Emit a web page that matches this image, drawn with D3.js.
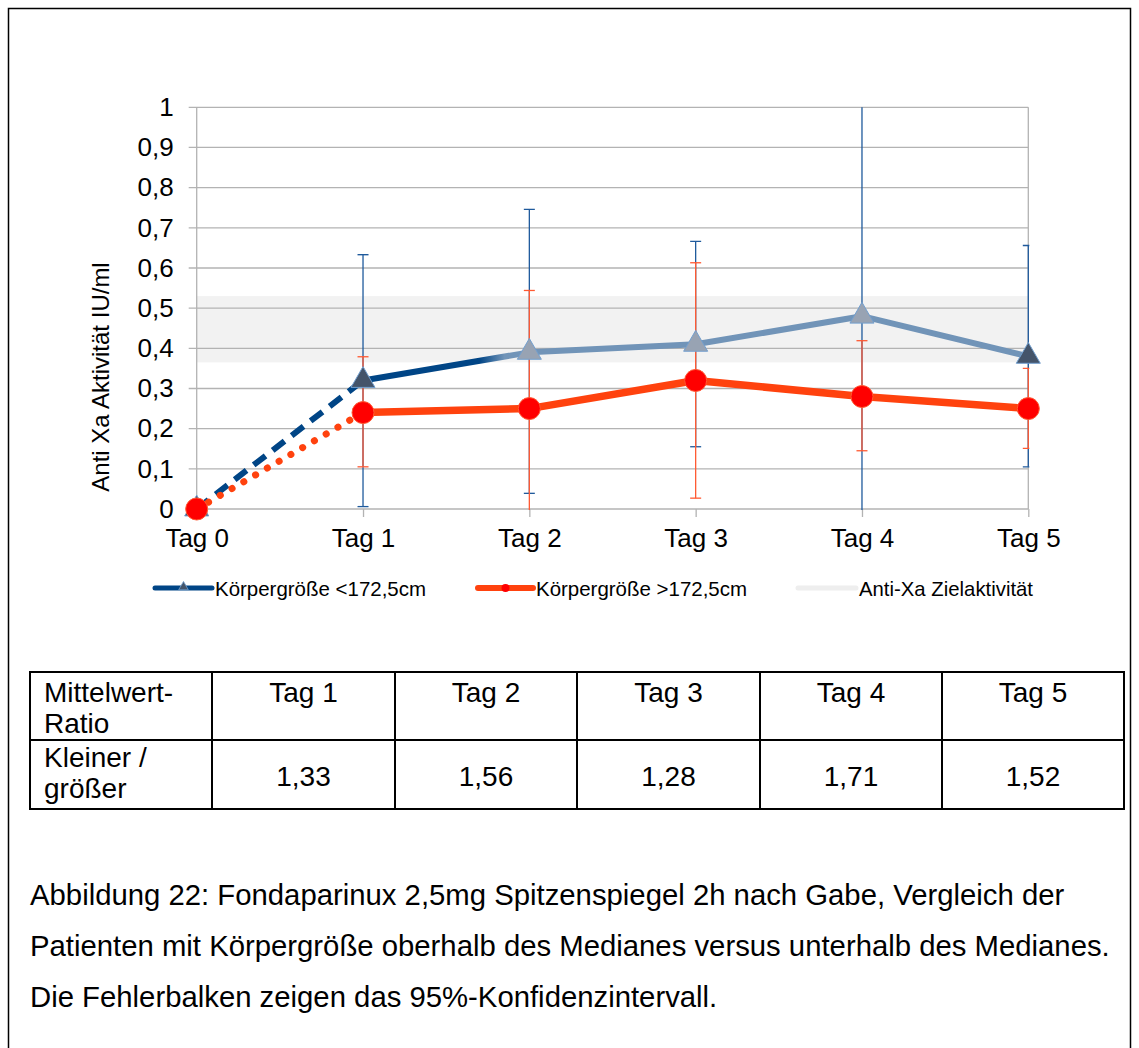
<!DOCTYPE html>
<html>
<head>
<meta charset="utf-8">
<script src="https://cdn.jsdelivr.net/npm/d3@7"></script>
<style>
  body { margin: 0; background: #fff; }
  svg { display: block; font-family: "Liberation Sans", Arial, sans-serif; }
</style>
</head>
<body>
<svg id="chart" width="1139" height="1048"></svg>
<script>
// chart data
const days = ["Tag 0", "Tag 1", "Tag 2", "Tag 3", "Tag 4", "Tag 5"];
const small = [0, 0.32, 0.39, 0.41, 0.48, 0.38];          // Körpergröße <172,5cm
const large = [0, 0.24, 0.25, 0.32, 0.28, 0.25];          // Körpergröße >172,5cm
const smallLow = [null, 0.006, 0.039, 0.155, -0.1, 0.105];
const smallHigh = [null, 0.633, 0.746, 0.666, 1.2, 0.656];
const largeLow = [null, 0.105, -0.05, 0.027, 0.145, 0.151];
const largeHigh = [null, 0.379, 0.544, 0.613, 0.419, 0.35];
const targetBand = [0.365, 0.53];
const yTicks = [0, 0.1, 0.2, 0.3, 0.4, 0.5, 0.6, 0.7, 0.8, 0.9, 1];
const legendLabels = ["Körpergröße <172,5cm", "Körpergröße >172,5cm", "Anti-Xa Zielaktivität"];

// table + caption
const tableHead = [["Mittelwert-", "Ratio"], ["Tag 1"], ["Tag 2"], ["Tag 3"], ["Tag 4"], ["Tag 5"]];
const tableRow = [["Kleiner /", "größer"], ["1,33"], ["1,56"], ["1,28"], ["1,71"], ["1,52"]];
const caption = [
  "Abbildung 22: Fondaparinux 2,5mg Spitzenspiegel 2h nach Gabe, Vergleich der",
  "Patienten mit Körpergröße oberhalb des Medianes versus unterhalb des Medianes.",
  "Die Fehlerbalken zeigen das 95%-Konfidenzintervall."
];

const svg = d3.select("#chart");
const margin = { left: 196.7, right: 1028.3, top: 107.3, bottom: 509 };

// outer frame
svg.append("rect").attr("x", 8.5).attr("y", 8.5).attr("width", 1122).attr("height", 1100)
  .attr("fill", "none").attr("stroke", "#000").attr("stroke-width", 1.5);

const x = d3.scalePoint().domain(days).range([margin.left, margin.right]);
const y = d3.scaleLinear().domain([0, 1]).range([margin.bottom, margin.top]);

svg.append("defs").append("clipPath").attr("id", "plotclip")
  .append("rect").attr("x", margin.left - 1).attr("y", margin.top)
  .attr("width", margin.right - margin.left + 2).attr("height", margin.bottom - margin.top + 1);

// target band
svg.append("rect")
  .attr("x", margin.left).attr("width", margin.right - margin.left)
  .attr("y", y(targetBand[1])).attr("height", y(targetBand[0]) - y(targetBand[1]))
  .attr("fill", "#f2f2f2");

// grid
svg.append("g").selectAll("line").data(yTicks).join("line")
  .attr("x1", margin.left - 8).attr("x2", margin.right)
  .attr("y1", d => y(d)).attr("y2", d => y(d))
  .attr("stroke", "#b3b3b3").attr("stroke-width", 1.3);
svg.append("line").attr("x1", margin.left).attr("x2", margin.left)
  .attr("y1", margin.top).attr("y2", margin.bottom)
  .attr("stroke", "#b3b3b3").attr("stroke-width", 1.3);
svg.append("line").attr("x1", margin.right).attr("x2", margin.right)
  .attr("y1", margin.top).attr("y2", margin.bottom)
  .attr("stroke", "#b3b3b3").attr("stroke-width", 1.3);

// axes
const fmt = d3.formatLocale({ decimal: ",", thousands: ".", grouping: [3], currency: ["", "€"] }).format(".1~f");
const yAxis = svg.append("g").attr("transform", `translate(${margin.left},0)`)
  .call(d3.axisLeft(y).tickValues(yTicks).tickFormat(fmt).tickSize(0).tickPadding(23));
yAxis.select(".domain").remove();
yAxis.selectAll("text").attr("font-size", 26).attr("fill", "#000").attr("font-family", null);

const xAxis = svg.append("g").attr("transform", `translate(0,${margin.bottom})`)
  .call(d3.axisBottom(x).tickSize(8).tickPadding(12));
xAxis.select(".domain").remove();
xAxis.selectAll("line").attr("stroke", "#b3b3b3").attr("stroke-width", 1.3);
xAxis.selectAll("text").attr("font-size", 26).attr("fill", "#000").attr("font-family", null);

svg.append("text")
  .attr("transform", `translate(109,377) rotate(-90)`)
  .attr("text-anchor", "middle").attr("font-size", 24).attr("fill", "#000")
  .text("Anti Xa Aktivität IU/ml");

// error bars
const plot = svg.append("g").attr("clip-path", "url(#plotclip)");
function errorBars(low, high, color) {
  const idx = days.map((d, i) => i).filter(i => low[i] !== null);
  const g = plot.append("g").attr("stroke", color).attr("stroke-width", 1.3);
  g.selectAll(".v").data(idx).join("line")
    .attr("x1", i => x(days[i])).attr("x2", i => x(days[i]))
    .attr("y1", i => y(low[i])).attr("y2", i => y(high[i]));
  g.selectAll(".lo").data(idx).join("line")
    .attr("x1", i => x(days[i]) - 5.5).attr("x2", i => x(days[i]) + 5.5)
    .attr("y1", i => y(low[i])).attr("y2", i => y(low[i]));
  g.selectAll(".hi").data(idx).join("line")
    .attr("x1", i => x(days[i]) - 5.5).attr("x2", i => x(days[i]) + 5.5)
    .attr("y1", i => y(high[i])).attr("y2", i => y(high[i]));
}
errorBars(smallLow, smallHigh, "#1f5a9c");
errorBars(largeLow, largeHigh, "#ff5a33");

// lines
const line = d3.line().x(d => x(d.day)).y(d => y(d.v));
const smallPts = days.map((d, i) => ({ day: d, v: small[i] }));
const largePts = days.map((d, i) => ({ day: d, v: large[i] }));

const grad = svg.select("defs").append("linearGradient").attr("id", "blueGrad")
  .attr("gradientUnits", "userSpaceOnUse")
  .attr("x1", x("Tag 1")).attr("x2", x("Tag 2")).attr("y1", 0).attr("y2", 0);
grad.append("stop").attr("offset", 0.7).attr("stop-color", "#004586");
grad.append("stop").attr("offset", 0.85).attr("stop-color", "#7194b8");

svg.append("path").attr("d", line(smallPts.slice(0, 2)))
  .attr("fill", "none").attr("stroke", "#004586").attr("stroke-width", 6)
  .attr("stroke-dasharray", "15 9");
svg.append("path").attr("d", line(smallPts.slice(1, 3)))
  .attr("fill", "none").attr("stroke", "url(#blueGrad)").attr("stroke-width", 6);
svg.append("path").attr("d", line(smallPts.slice(2)))
  .attr("fill", "none").attr("stroke", "#7194b8").attr("stroke-width", 6)
  .attr("stroke-linejoin", "round");

svg.append("path").attr("d", line(largePts.slice(0, 2)))
  .attr("fill", "none").attr("stroke", "#ff420e").attr("stroke-width", 7)
  .attr("stroke-linecap", "round").attr("stroke-dasharray", "0.1 13.5");
svg.append("path").attr("d", line(largePts.slice(1)))
  .attr("fill", "none").attr("stroke", "#ff420e").attr("stroke-width", 7.5)
  .attr("stroke-linejoin", "round");

// markers
const triFill = ["#44546a", "#44546a", "#98a3b3", "#98a3b3", "#98a3b3", "#44546a"];
const tri = d3.symbol().type(d3.symbolTriangle).size(250);
svg.append("g").selectAll("path").data(smallPts).join("path")
  .attr("d", tri)
  .attr("transform", d => `translate(${x(d.day)},${y(d.v)})`)
  .attr("fill", (d, i) => triFill[i]).attr("stroke", "#729fcf").attr("stroke-width", 1);

svg.append("g").selectAll("circle").data(largePts).join("circle")
  .attr("cx", d => x(d.day)).attr("cy", d => y(d.v)).attr("r", 11)
  .attr("fill", "#ff0000").attr("stroke", "#ff5a33").attr("stroke-width", 1);

// legend
const legend = svg.append("g").attr("font-size", 21).attr("fill", "#000");
const legendX = [155, 478, 798];
const legendLen = [57, 55, 58];
const legendColor = ["#004586", "#ff420e", "#eeeeee"];
legendLabels.forEach((lab, i) => {
  legend.append("line")
    .attr("x1", legendX[i]).attr("x2", legendX[i] + legendLen[i])
    .attr("y1", 588).attr("y2", 588)
    .attr("stroke", legendColor[i]).attr("stroke-width", i === 1 ? 6 : 5)
    .attr("stroke-linecap", "round");
  legend.append("text").attr("x", legendX[i] + legendLen[i] + 3).attr("y", 596)
    .attr("textLength", i === 2 ? 174 : 211).attr("lengthAdjust", "spacingAndGlyphs").text(lab);
});
legend.append("path").attr("d", d3.symbol().type(d3.symbolTriangle).size(40))
  .attr("transform", `translate(${legendX[0] + legendLen[0] / 2},587)`)
  .attr("fill", "#44546a").attr("stroke", "#729fcf").attr("stroke-width", 0.8);
legend.append("circle").attr("cx", legendX[1] + legendLen[1] / 2).attr("cy", 588).attr("r", 4)
  .attr("fill", "#ff0000");

// table
const colX = [30, 212, 395, 577, 760, 942, 1124];
const rowY = [672, 740, 809];
const table = svg.append("g").attr("font-size", 28).attr("fill", "#000");
table.append("g").selectAll("line").data(colX).join("line")
  .attr("x1", d => d).attr("x2", d => d).attr("y1", rowY[0]).attr("y2", rowY[2])
  .attr("stroke", "#000").attr("stroke-width", 2);
table.append("g").selectAll("line").data(rowY).join("line")
  .attr("x1", colX[0] - 1).attr("x2", colX[6] + 1).attr("y1", d => d).attr("y2", d => d)
  .attr("stroke", "#000").attr("stroke-width", 2);
tableHead.forEach((cell, c) => {
  cell.forEach((t, k) => {
    table.append("text")
      .attr("x", c === 0 ? colX[0] + 14 : (colX[c] + colX[c + 1]) / 2)
      .attr("text-anchor", c === 0 ? "start" : "middle")
      .attr("y", 702 + k * 31).text(t);
  });
});
tableRow.forEach((cell, c) => {
  if (c === 0) {
    cell.forEach((t, k) => {
      table.append("text").attr("x", colX[0] + 14).attr("y", 767 + k * 31).text(t);
    });
  } else {
    table.append("text").attr("x", (colX[c] + colX[c + 1]) / 2).attr("text-anchor", "middle")
      .attr("y", 786).text(cell[0]);
  }
});

// caption
svg.append("g").attr("font-size", 29.3).attr("fill", "#000")
  .selectAll("text").data(caption).join("text")
  .attr("x", 30).attr("y", (d, i) => 905 + i * 51).text(d => d);
</script>
</body>
</html>
